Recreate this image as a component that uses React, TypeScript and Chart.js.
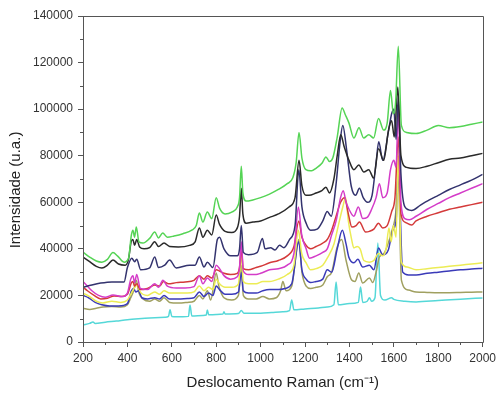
import React, { useEffect, useRef } from "react";
import { Chart, registerables } from "chart.js";

Chart.register(...registerables);

// Values are in thousands of counts (u.a.); UNIT converts them.
const UNIT = 1000;

const xMajorTicks = [200, 400, 600, 800, 1000, 1200, 1400, 1600, 1800, 2000];
const xMinorTicks = [300, 500, 700, 900, 1100, 1300, 1500, 1700, 1900];
const yMajorTicks = [0, 20000, 40000, 60000, 80000, 100000, 120000, 140000];
const yMinorTicks = [10000, 30000, 50000, 70000, 90000, 110000, 130000];

const green: [number, number][] = [
  [200, 38.6], [230, 36.5], [260, 34.8], [285, 34.3], [310, 35.5], [335, 38.4], [355, 37], [385, 34.3], [405, 36],
  [418, 46], [425, 48], [432, 45], [440, 49.4], [452, 43], [470, 42.5], [500, 44.5], [523, 47.2], [540, 44.7],
  [559, 46.8], [580, 45], [610, 45.5], [650, 46.5], [690, 48], [710, 50], [724, 55.4], [740, 51.5], [760, 55.8],
  [780, 53], [800, 62], [815, 57.5], [840, 55], [870, 55.8], [895, 58], [905, 62], [913, 75.5], [920, 64],
  [935, 60.5], [965, 61], [1000, 62], [1040, 63.5], [1080, 65.5], [1120, 68], [1145, 70.5], [1160, 77], [1173, 90],
  [1186, 79], [1204, 74], [1225, 73.5], [1255, 75], [1278, 77], [1294, 79.5], [1310, 77.5], [1325, 79], [1345, 88],
  [1367, 100.5], [1382, 97.5], [1398, 94], [1420, 87.6], [1443, 92], [1464, 87.6], [1487, 89], [1509, 87.6],
  [1531, 96], [1554, 91], [1570, 94], [1585, 108], [1598, 98], [1608, 103], [1620, 127], [1634, 93], [1657, 90],
  [1700, 89.5], [1750, 91], [1800, 93], [1850, 92], [1900, 92.5], [1950, 93.5], [2000, 94.5],
];

const black: [number, number][] = [
  [200, 36.5], [230, 34.5], [260, 32.5], [285, 31.8], [310, 33], [335, 35.2], [360, 33.5], [390, 33], [405, 35.5],
  [418, 43.5], [425, 44], [432, 41.5], [442, 44], [455, 40.8], [475, 40], [500, 40.5], [523, 43], [540, 41],
  [565, 42.5], [590, 41], [630, 40.8], [680, 41.5], [705, 43], [724, 49], [740, 45], [760, 48], [780, 46],
  [800, 54.5], [815, 50.5], [840, 47.5], [870, 47], [895, 49], [905, 54], [913, 66], [920, 55], [935, 51],
  [965, 51.5], [1000, 52], [1040, 53.5], [1080, 55], [1128, 58], [1155, 62], [1173, 78], [1186, 67], [1204, 63],
  [1218, 63], [1250, 64], [1276, 65], [1294, 66.5], [1310, 64], [1330, 70], [1345, 80], [1361, 89], [1376, 84],
  [1398, 78], [1420, 74], [1442, 76], [1465, 73], [1487, 74], [1509, 70.4], [1531, 83], [1554, 78], [1576, 91],
  [1590, 95], [1602, 88], [1618, 109.5], [1632, 80], [1657, 75], [1700, 74.5], [1750, 75.5], [1800, 77],
  [1850, 78.5], [1900, 79], [1950, 80], [2000, 81],
];

const navy: [number, number][] = [
  [200, 23.5], [240, 24.5], [280, 25.3], [330, 25.8], [385, 25.8], [400, 32], [420, 36], [432, 34.5], [442, 35.5],
  [460, 31], [500, 31.8], [523, 36.5], [540, 32], [568, 33], [590, 35.2], [620, 31.8], [680, 33], [705, 33],
  [724, 36.5], [745, 32.2], [760, 34.3], [785, 32], [805, 44], [815, 45], [835, 40], [865, 37], [895, 37],
  [905, 40], [913, 50], [922, 38.5], [945, 37.5], [985, 38.5], [1008, 44.5], [1020, 40], [1045, 40.5], [1065, 39.5],
  [1085, 41.5], [1105, 40.5], [1130, 44], [1155, 50], [1172, 74], [1186, 58], [1205, 51], [1225, 48], [1255, 48.5],
  [1280, 52], [1300, 56], [1318, 54], [1340, 68], [1358, 86], [1370, 93], [1388, 82], [1408, 67], [1428, 63],
  [1445, 66], [1462, 62], [1482, 60], [1502, 63], [1520, 77], [1532, 86], [1550, 78], [1575, 90], [1590, 98],
  [1600, 100], [1610, 87], [1620, 105], [1632, 72], [1650, 58], [1680, 56.5], [1720, 58.8], [1760, 61], [1800, 63],
  [1850, 65.5], [1900, 67.5], [1950, 69.5], [2000, 72],
];

const magenta: [number, number][] = [
  [200, 26], [215, 24.5], [240, 22], [270, 20], [300, 19.2], [335, 20.2], [375, 19.5], [400, 21], [415, 27],
  [425, 28.5], [432, 25.5], [442, 29], [458, 23], [490, 22.5], [523, 25], [540, 23.5], [560, 26.5], [580, 24],
  [620, 23.2], [660, 23.2], [700, 23.8], [724, 28.5], [740, 25], [760, 27.5], [780, 26], [800, 33], [815, 31.5],
  [835, 28.5], [865, 27], [895, 28], [905, 32], [913, 43], [922, 30.5], [945, 29], [980, 29], [1000, 29.5],
  [1040, 31], [1080, 31.5], [1120, 33], [1150, 38], [1170, 58], [1185, 46], [1205, 40], [1220, 36], [1250, 37],
  [1280, 38.5], [1300, 40], [1320, 46], [1340, 52], [1360, 62], [1372, 65], [1385, 60], [1398, 57], [1420, 54],
  [1440, 58], [1460, 53], [1480, 53.5], [1500, 57], [1520, 62], [1535, 68], [1550, 62], [1570, 64], [1585, 74],
  [1600, 78], [1610, 75], [1620, 100], [1632, 60], [1650, 53], [1670, 52.5], [1700, 54], [1750, 57], [1800, 59.5],
  [1850, 62], [1900, 64], [1950, 66], [2000, 68],
];

const red: [number, number][] = [
  [200, 23.5], [220, 22], [250, 20], [280, 18.5], [310, 18.8], [340, 19.8], [375, 19.5], [400, 20.5], [418, 25.5],
  [425, 26], [432, 24], [442, 25], [458, 22.5], [490, 23], [523, 24.5], [545, 24], [562, 26], [585, 25],
  [620, 25.5], [660, 25.8], [700, 26.5], [724, 28.5], [745, 27], [760, 28.5], [780, 27.5], [800, 31], [815, 30.5],
  [835, 29.5], [865, 29], [895, 29.5], [905, 32], [913, 40], [922, 31.5], [945, 31], [980, 32], [1000, 32.5],
  [1040, 34], [1080, 35], [1120, 37], [1150, 41], [1172, 52], [1186, 45], [1205, 41.5], [1225, 40], [1250, 41],
  [1280, 42.5], [1300, 44], [1320, 48], [1340, 54], [1360, 60], [1378, 62], [1395, 55], [1411, 49.4], [1430, 50],
  [1445, 51.5], [1473, 47.2], [1490, 47.5], [1510, 48.5], [1531, 51], [1550, 49], [1570, 50], [1590, 56],
  [1605, 62], [1620, 88], [1632, 55], [1650, 51.5], [1680, 50.2], [1700, 52], [1750, 54], [1800, 55.5],
  [1850, 57], [1900, 58], [1950, 59], [2000, 60],
];

const yellow: [number, number][] = [
  [200, 21], [230, 19.5], [260, 17.5], [290, 16.8], [330, 17.5], [370, 17], [400, 18], [418, 21], [430, 23],
  [445, 24.5], [458, 21.5], [490, 20], [523, 21.5], [545, 20.5], [565, 22], [590, 21], [630, 21], [670, 21],
  [700, 21.5], [724, 24], [745, 22], [765, 23.5], [785, 22.5], [800, 27], [815, 25], [840, 23.5], [870, 23.5],
  [900, 25], [913, 37], [922, 26], [945, 25], [980, 25], [1010, 26], [1040, 26], [1080, 27], [1120, 29],
  [1150, 33], [1170, 48], [1185, 38], [1205, 34], [1225, 31], [1250, 31.5], [1280, 33], [1300, 36], [1330, 42],
  [1350, 50], [1370, 58], [1383, 62], [1395, 52], [1410, 44], [1420, 40.4], [1435, 41], [1448, 40], [1465, 35],
  [1490, 34.3], [1510, 35], [1531, 38], [1550, 37], [1565, 40], [1578, 49], [1588, 43], [1598, 50], [1610, 45],
  [1620, 80], [1634, 34.3], [1660, 32.2], [1700, 31], [1750, 31.5], [1800, 32], [1850, 32.5], [1900, 33],
  [1950, 33.5], [2000, 34],
];

const blue: [number, number][] = [
  [200, 20], [225, 19], [255, 17], [285, 16], [320, 15.5], [360, 15.5], [400, 16.5], [418, 22], [428, 23],
  [438, 21.5], [450, 22], [465, 19], [490, 18.5], [523, 19], [545, 18.5], [565, 20], [590, 18.5], [630, 18.5],
  [670, 18.7], [700, 19], [724, 21.5], [745, 19.5], [765, 21], [785, 20], [800, 24], [815, 22.5], [840, 20.5],
  [870, 20.5], [900, 21.5], [913, 30], [922, 22], [945, 21], [980, 21], [1010, 22], [1040, 22.5], [1080, 22.5],
  [1110, 23], [1140, 25], [1172, 43], [1186, 31], [1205, 27], [1225, 25.5], [1250, 26], [1280, 27], [1300, 31],
  [1320, 30], [1345, 40], [1368, 48], [1385, 42], [1397, 36.5], [1420, 34], [1438, 35.5], [1460, 32.2],
  [1490, 33], [1510, 31], [1531, 40.4], [1550, 37.4], [1575, 39.5], [1595, 48], [1610, 52], [1620, 74],
  [1640, 30], [1666, 28.8], [1700, 28.8], [1750, 29.5], [1800, 30], [1850, 30.5], [1900, 31], [1950, 31.3],
  [2000, 31.7],
];

const olive: [number, number][] = [
  [200, 14.5], [230, 14], [260, 14.5], [290, 15], [330, 15.2], [370, 15], [400, 16], [415, 19], [428, 22],
  [440, 26.5], [452, 21], [470, 18.5], [500, 17.5], [523, 18.5], [545, 17.5], [565, 19], [590, 17], [630, 16.7],
  [670, 17], [700, 17.5], [724, 20], [740, 18.5], [760, 22], [775, 18], [800, 29.6], [812, 24], [835, 19],
  [870, 18], [900, 20], [913, 33], [922, 20], [945, 18.5], [980, 18.5], [1010, 19.5], [1040, 18.5], [1070, 19],
  [1090, 22], [1100, 26], [1115, 22], [1140, 24], [1172, 44], [1186, 30], [1205, 24], [1225, 23], [1250, 23.5],
  [1280, 24.5], [1300, 28], [1320, 30], [1345, 40.8], [1365, 44], [1385, 35], [1410, 26.6], [1425, 26],
  [1442, 29.6], [1460, 25.3], [1490, 27.5], [1505, 25.5], [1520, 30], [1535, 36.5], [1555, 38], [1575, 42.5],
  [1592, 48], [1608, 55], [1620, 72], [1634, 26.6], [1666, 22.3], [1700, 21.5], [1750, 21.3], [1800, 21.2],
  [1850, 21.2], [1900, 21.3], [1950, 21.4], [2000, 21.5],
];

const cyan: [number, number][] = [
  [200, 7.3], [230, 8], [245, 8.6], [255, 7.9], [300, 8.5], [350, 9], [400, 9.6], [450, 10], [500, 10.3],
  [570, 10.6], [585, 11], [592, 13.8], [600, 11], [650, 10.8], [675, 11], [682, 15.9], [690, 11.2], [740, 11.4],
  [755, 11.6], [760, 13.7], [766, 11.7], [800, 11.8], [830, 12], [835, 13], [840, 12], [900, 12.2], [913, 13.5],
  [925, 12.3], [1000, 12.4], [1050, 12.7], [1100, 13], [1130, 13.5], [1140, 18], [1150, 13.8], [1200, 14.2],
  [1260, 14.6], [1300, 15], [1330, 16], [1340, 25.8], [1350, 16], [1400, 16.5], [1440, 17], [1450, 23.6],
  [1460, 17], [1480, 17.5], [1490, 19], [1500, 17.5], [1515, 19], [1528, 42.5], [1540, 20], [1560, 18],
  [1590, 19], [1600, 18.3], [1650, 17.5], [1700, 17.2], [1800, 17.8], [1900, 18.4], [2000, 18.9],
];

const seriesList = [
  { name: "verde", data: green, color: "#55d455" },
  { name: "preto", data: black, color: "#2a2a2a" },
  { name: "azul escuro", data: navy, color: "#33336e" },
  { name: "magenta", data: magenta, color: "#d43cc8" },
  { name: "vermelho", data: red, color: "#d43a3a" },
  { name: "amarelo", data: yellow, color: "#ecec55" },
  { name: "azul", data: blue, color: "#3a3ab8" },
  { name: "oliva", data: olive, color: "#a0a060" },
  { name: "ciano", data: cyan, color: "#55d8d8" },
];

const FONT = '"Liberation Sans", Arial, sans-serif';

const decorPlugin = {
  id: "decor",
  afterDraw(chart: any) {
    const { ctx, chartArea: a, scales } = chart;
    const xs = scales.x;
    const ys = scales.y;
    ctx.save();
    ctx.strokeStyle = "#555";
    ctx.lineWidth = 1;
    ctx.beginPath();
    ctx.rect(Math.round(a.left) + 0.5, Math.round(a.top) + 0.5, Math.round(a.right - a.left), Math.round(a.bottom - a.top));
    for (const v of xMinorTicks) {
      const px = Math.round(xs.getPixelForValue(v)) + 0.5;
      ctx.moveTo(px, a.bottom);
      ctx.lineTo(px, a.bottom + 3);
    }
    for (const v of yMinorTicks) {
      const py = Math.round(ys.getPixelForValue(v)) + 0.5;
      ctx.moveTo(a.left, py);
      ctx.lineTo(a.left - 3, py);
    }
    ctx.stroke();
    ctx.translate(16, 190);
    ctx.rotate(-Math.PI / 2);
    ctx.font = `15px ${FONT}`;
    ctx.textAlign = "center";
    ctx.textBaseline = "middle";
    ctx.fillStyle = "#222";
    ctx.fillText("Intensidade (u.a.)", 0, 0);
    ctx.restore();
  },
};

export default function App() {
  const canvasRef = useRef<HTMLCanvasElement | null>(null);

  useEffect(() => {
    document.body.style.margin = "0";
    const canvas = canvasRef.current;
    if (!canvas) return;
    const chart = new Chart(canvas, {
      type: "line",
      data: {
        datasets: seriesList.map((s) => ({
          label: s.name,
          data: s.data.map(([x, y]) => ({ x, y: y * UNIT })),
          borderColor: s.color,
          backgroundColor: s.color,
          borderWidth: 1.5,
          pointRadius: 0,
          cubicInterpolationMode: "monotone" as const,
          fill: false,
        })),
      },
      options: {
        animation: false,
        responsive: true,
        maintainAspectRatio: false,
        events: [],
        layout: { padding: { top: 16, right: 16, left: 0, bottom: 0 } },
        plugins: { legend: { display: false }, tooltip: { enabled: false } },
        scales: {
          x: {
            type: "linear",
            min: 200,
            max: 2000,
            afterFit: (s: any) => {
              s.height = 54;
            },
            afterBuildTicks: (s: any) => {
              s.ticks = xMajorTicks.map((v) => ({ value: v }));
            },
            ticks: {
              font: { family: FONT, size: 12 },
              color: "#333",
              padding: 4,
              maxRotation: 0,
              autoSkip: false,
              callback: (v: any) => String(v),
            },
            grid: { drawOnChartArea: false, drawTicks: true, tickLength: 5, color: "#555" },
            border: { display: true, color: "#555" },
            title: {
              display: true,
              text: "Deslocamento Raman (cm⁻¹)",
              font: { family: FONT, size: 15 },
              color: "#222",
              padding: { top: 0, bottom: 4 },
            },
          },
          y: {
            type: "linear",
            min: 0,
            max: 140000,
            afterFit: (s: any) => {
              s.width = 83;
            },
            afterBuildTicks: (s: any) => {
              s.ticks = yMajorTicks.map((v) => ({ value: v }));
            },
            ticks: { font: { family: FONT, size: 12 }, color: "#333", padding: 5, autoSkip: false, callback: (v: any) => String(v) },
            grid: { drawOnChartArea: false, drawTicks: true, tickLength: 5, color: "#555" },
            border: { display: true, color: "#555" },
          },
        },
      },
      plugins: [decorPlugin],
    });
    return () => chart.destroy();
  }, []);

  return (
    <div style={{ width: 500, height: 396, position: "relative" }}>
      <canvas ref={canvasRef} />
    </div>
  );
}
